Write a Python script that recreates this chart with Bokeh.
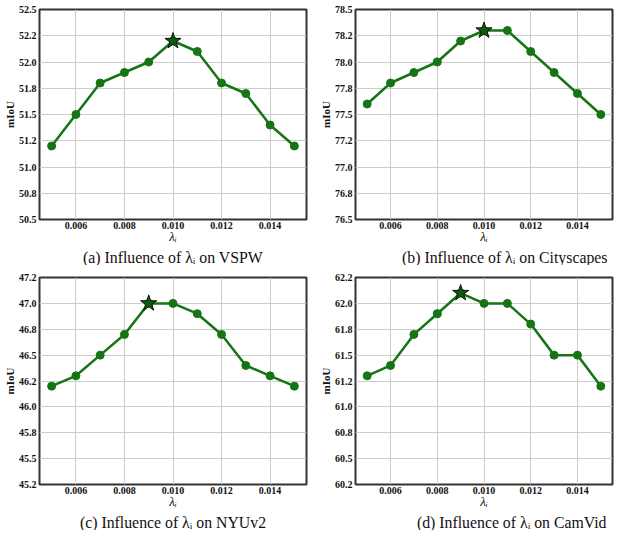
from bokeh.plotting import figure
from bokeh.layouts import column, row
from bokeh.models import FixedTicker, Title, Range1d
from bokeh.embed import file_html
from bokeh.resources import INLINE

# ---- data ----
lam = [0.005, 0.006, 0.007, 0.008, 0.009, 0.010, 0.011, 0.012, 0.013, 0.014, 0.015]
vspw = [51.2, 51.5, 51.8, 51.9, 52.0, 52.2, 52.1, 51.8, 51.7, 51.4, 51.2]
cityscapes = [77.6, 77.8, 77.9, 78.0, 78.2, 78.3, 78.3, 78.1, 77.9, 77.7, 77.5]
nyuv2 = [46.2, 46.3, 46.5, 46.7, 47.0, 47.0, 46.9, 46.7, 46.4, 46.3, 46.2]
camvid = [61.3, 61.4, 61.7, 61.9, 62.1, 62.0, 62.0, 61.8, 61.5, 61.5, 61.2]

x_ticks = [0.006, 0.008, 0.010, 0.012, 0.014]
x_tick_labels = ["0.006", "0.008", "0.010", "0.012", "0.014"]

vspw_ticks = [50.5, 50.75, 51.0, 51.25, 51.5, 51.75, 52.0, 52.25, 52.5]
vspw_labels = ["50.5", "50.8", "51.0", "51.2", "51.5", "51.8", "52.0", "52.2", "52.5"]
city_ticks = [76.5, 76.75, 77.0, 77.25, 77.5, 77.75, 78.0, 78.25, 78.5]
city_labels = ["76.5", "76.8", "77.0", "77.2", "77.5", "77.8", "78.0", "78.2", "78.5"]
nyu_ticks = [45.25, 45.5, 45.75, 46.0, 46.25, 46.5, 46.75, 47.0, 47.25]
nyu_labels = ["45.2", "45.5", "45.8", "46.0", "46.2", "46.5", "46.8", "47.0", "47.2"]
cam_ticks = [60.25, 60.5, 60.75, 61.0, 61.25, 61.5, 61.75, 62.0, 62.25]
cam_labels = ["60.2", "60.5", "60.8", "61.0", "61.2", "61.5", "61.8", "62.0", "62.2"]

captions = ["(a) Influence of \u03bb\u1d62 on VSPW",
            "(b) Influence of \u03bb\u1d62 on Cityscapes",
            "(c) Influence of \u03bb\u1d62 on NYUv2",
            "(d) Influence of \u03bb\u1d62 on CamVid"]

LINE = "#157515"
SERIF = "Liberation Serif"


def make(ys, yticks, ylabels, caption, w, h, bl, br, bt, bb, cap_align, cap_offset):
    p = figure(width=w, height=h,
               x_range=Range1d(0.0045, 0.0155),
               y_range=Range1d(yticks[0], yticks[-1]),
               output_backend="svg", toolbar_location=None,
               min_border_left=bl, min_border_right=br,
               min_border_top=bt, min_border_bottom=bb)
    p.outline_line_color = "#333333"
    p.outline_line_width = 2
    p.background_fill_color = "white"
    p.border_fill_color = "white"

    p.xaxis.ticker = FixedTicker(ticks=x_ticks)
    p.xaxis.major_label_overrides = dict(zip(x_ticks, x_tick_labels))
    p.yaxis.ticker = FixedTicker(ticks=yticks)
    p.yaxis.major_label_overrides = dict(zip(yticks, ylabels))

    for ax in (p.xaxis[0], p.yaxis[0]):
        ax.axis_line_color = None
        ax.major_tick_line_color = None
        ax.minor_tick_line_color = None
        ax.major_tick_out = 0
        ax.major_tick_in = 0
        ax.major_label_text_font = SERIF
        ax.major_label_text_font_style = "bold"
        ax.major_label_text_font_size = "10px"
        ax.major_label_text_color = "#111111"
        ax.axis_label_text_font = SERIF
        ax.axis_label_text_color = "#111111"

    p.xaxis.major_label_standoff = 2
    p.yaxis.major_label_standoff = 3
    p.xaxis.axis_label = "\u03bb\u1d62"
    p.xaxis.axis_label_text_font_style = "italic"
    p.xaxis.axis_label_text_font_size = "13px"
    p.xaxis.axis_label_standoff = -3
    p.yaxis.axis_label = "mIoU"
    p.yaxis.axis_label_text_font_style = "bold"
    p.yaxis.axis_label_text_font_size = "11px"
    p.yaxis.axis_label_standoff = 0

    p.xgrid.ticker = FixedTicker(ticks=x_ticks)
    p.ygrid.ticker = FixedTicker(ticks=yticks)
    for g in (p.xgrid[0], p.ygrid[0]):
        g.grid_line_color = "#cccccc"
        g.grid_line_width = 1

    p.line(lam, ys, line_color=LINE, line_width=2.5)
    p.scatter(lam, ys, size=8, fill_color=LINE, line_color=LINE)
    i = max(range(len(ys)), key=lambda k: (ys[k], -k))
    p.scatter([lam[i]], [ys[i]], marker="star", size=17,
              fill_color="#0d5c0d", line_color="#111111", line_width=1)

    t = Title(text=caption, align=cap_align, offset=cap_offset, text_font=SERIF,
              text_font_size="15.8px", text_font_style="normal",
              text_color="#111111", standoff=0, text_line_height=0.75)
    p.add_layout(t, "below")
    return p


pa = make(vspw, vspw_ticks, vspw_labels, captions[0], 311, 265, 37, 5, 9, 45, "center", 0)
pb = make(cityscapes, city_ticks, city_labels, captions[1], 303, 265, 44, 2, 9, 45, "right", 5)
pc = make(nyuv2, nyu_ticks, nyu_labels, captions[2], 311, 265, 37, 5, 12, 41, "center", 0)
pd = make(camvid, cam_ticks, cam_labels, captions[3], 303, 265, 44, 2, 12, 41, "right", 6)

layout = column(row(pa, pb), row(pc, pd))

with open("out.html", "w") as f:
    f.write(file_html(layout, INLINE))
